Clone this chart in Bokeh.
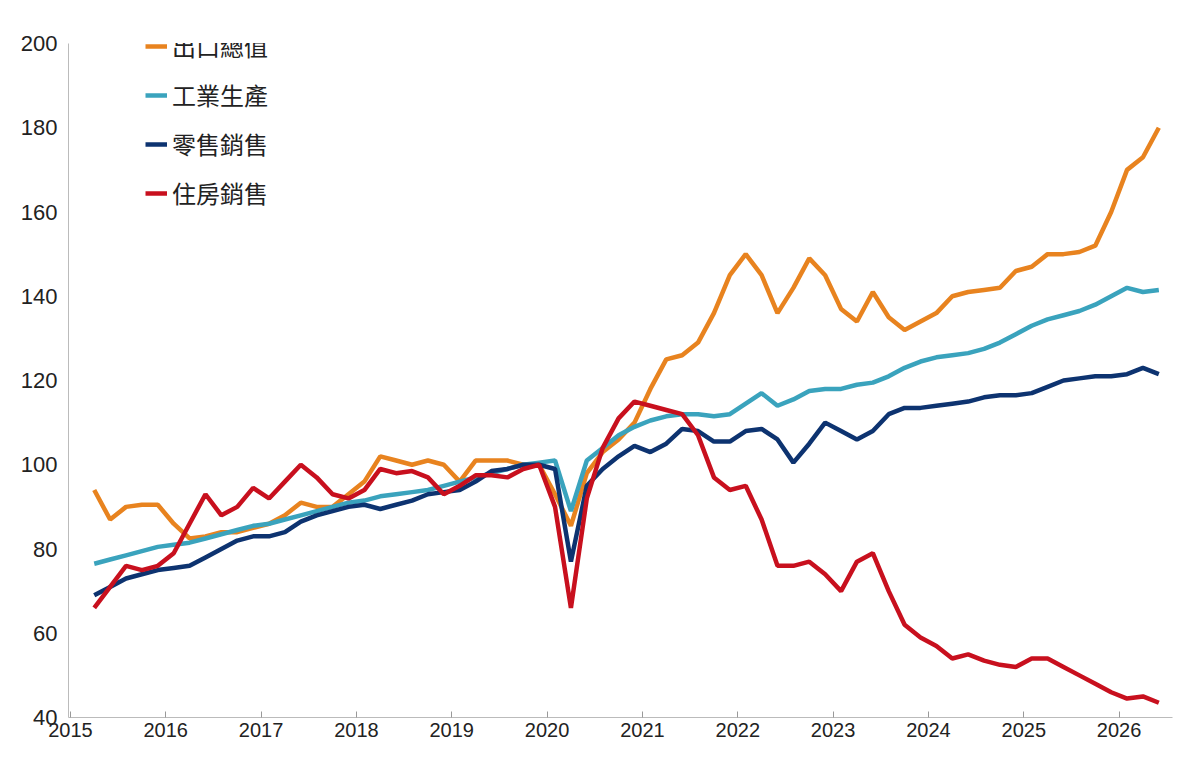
from bokeh.plotting import figure
from bokeh.models import Legend, LegendItem, FixedTicker, Range1d
from bokeh.embed import file_html
from bokeh.resources import INLINE

years = list(range(2015, 2027))
x = [2015 + 0.25 + k / 6 for k in range(68)]

exports = [94, 87, 90, 90.5, 90.5,
           86, 82.5, 83, 84, 84, 85,
           86, 88, 91, 90, 90, 93,
           96, 102, 101, 100, 101, 100,
           96, 101, 101, 101, 100, 100,
           93, 85.5, 98, 103, 106, 110,
           118, 125, 126, 129, 136, 145,
           150, 145, 136, 142, 149, 145,
           137, 134, 141, 135, 132, 134,
           136, 140, 141, 141.5, 142, 146,
           147, 150, 150, 150.5, 152, 160,
           170, 173, 180]
industry = [76.5, 77.5, 78.5, 79.5, 80.5,
            81, 81.5, 82.5, 83.5, 84.5, 85.5,
            86, 87, 88, 89, 90, 91,
            91.5, 92.5, 93, 93.5, 94, 95,
            96, 97, 98, 99, 100, 100.5,
            101, 89, 101, 104, 107, 109,
            110.5, 111.5, 112, 112, 111.5, 112,
            114.5, 117, 114, 115.5, 117.5, 118,
            118, 119, 119.5, 121, 123, 124.5,
            125.5, 126, 126.5, 127.5, 129, 131,
            133, 134.5, 135.5, 136.5, 138, 140,
            142, 141, 141.5]
retail = [69, 71, 73, 74, 75,
          75.5, 76, 78, 80, 82, 83,
          83, 84, 86.5, 88, 89, 90,
          90.5, 89.5, 90.5, 91.5, 93, 93.5,
          94, 96, 98.5, 99, 100, 100,
          99, 77, 95, 99, 102, 104.5,
          103, 105, 108.5, 108, 105.5, 105.5,
          108, 108.5, 106, 100.5, 105, 110,
          108, 106, 108, 112, 113.5, 113.5,
          114, 114.5, 115, 116, 116.5, 116.5,
          117, 118.5, 120, 120.5, 121, 121,
          121.5, 123, 121.5]
housing = [66, 71, 76, 75, 76,
           79, 86, 93, 88, 90, 94.5,
           92, 96, 100, 97, 93, 92,
           94, 99, 98, 98.5, 97, 93,
           95, 97.5, 97.5, 97, 99, 100,
           90, 66, 92, 104, 111, 115,
           114, 113, 112, 107, 97, 94,
           95, 87, 76, 76, 77, 74,
           70, 77, 79, 70, 62, 59,
           57, 54, 55, 53.5, 52.5, 52,
           54, 54, 52, 50, 48, 46,
           44.5, 45, 43.5]

names = ["出口總值", "工業生產", "零售銷售", "住房銷售"]
colors = ["#E8831F", "#3AA3BD", "#0D3370", "#C8101E"]
series = [exports, industry, retail, housing]

p = figure(width=1184, height=759, output_backend="svg", toolbar_location=None,
           x_range=Range1d(2014.98, 2026.56), y_range=Range1d(40, 200),
           min_border_left=68, min_border_bottom=42, min_border_top=43, min_border_right=12)
p.xgrid.visible = False
p.ygrid.visible = False
p.outline_line_color = None

items = []
for n, c, s in zip(names, colors, series):
    r = p.line(x, s, line_color=c, line_width=4.5)
    items.append(LegendItem(label=n, renderers=[r]))

leg = Legend(items=items, location=(77, 507))
leg.label_text_font = "Noto Sans CJK TC"
leg.label_text_font_size = "24px"
leg.label_text_color = "#222222"
leg.glyph_width = 22
leg.spacing = 14
leg.padding = 4
leg.margin = 0
leg.border_line_color = None
leg.background_fill_alpha = 1
p.add_layout(leg)

for ax in (p.xaxis[0], p.yaxis[0]):
    ax.axis_line_color = "#bbbbbb"
    ax.major_tick_line_color = "#999999"
    ax.minor_tick_line_color = None
    ax.major_label_text_font = "Liberation Sans"
    ax.major_label_text_font_size = "22px"
    ax.major_label_text_color = "#222222"
p.xaxis.major_label_text_font_size = "20px"
p.xaxis.ticker = FixedTicker(ticks=years)
p.yaxis.ticker = FixedTicker(ticks=list(range(40, 201, 20)))
p.yaxis.major_tick_line_color = None
p.xaxis.major_tick_in = 6
p.xaxis.major_tick_out = 0

open("out.html", "w").write(file_html(p, INLINE))
